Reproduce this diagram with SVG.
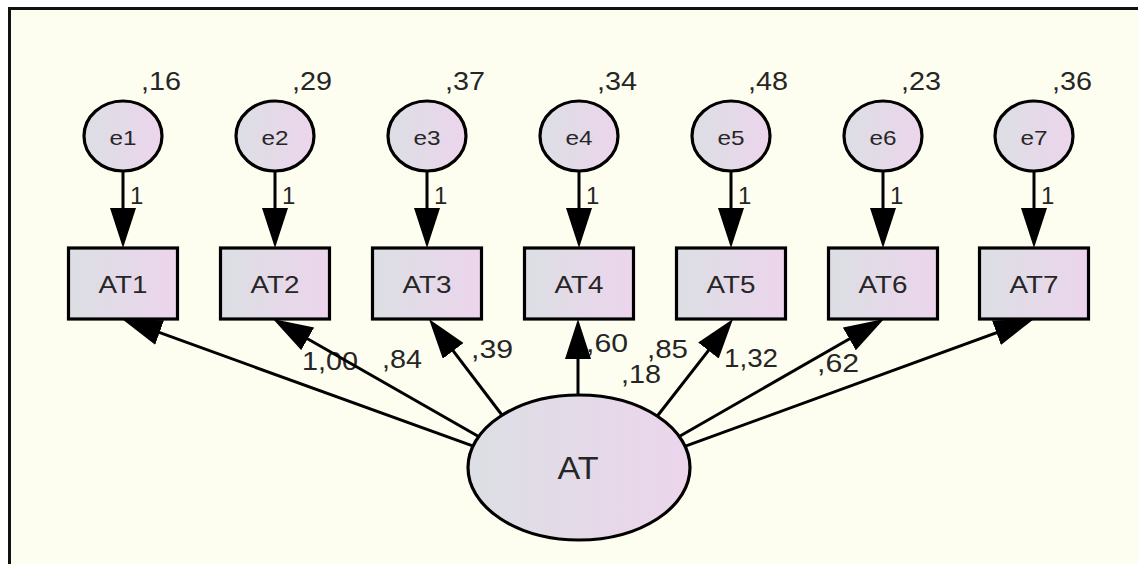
<svg xmlns="http://www.w3.org/2000/svg" width="1138" height="564" viewBox="0 0 1138 564">
  <defs>
    <linearGradient id="nodeFill" x1="0" y1="0" x2="1" y2="0">
      <stop offset="0" stop-color="#dcdfe4"/>
      <stop offset="1" stop-color="#ecd5ec"/>
    </linearGradient>
    <marker id="head" markerUnits="userSpaceOnUse" markerWidth="42" markerHeight="28" refX="32" refY="13" orient="auto">
      <path d="M0,0 L40,13 L0,26 Z" fill="#000"/>
    </marker>
    <style>
      .shape { fill: url(#nodeFill); stroke: #000; stroke-width: 3.2; }
      .link { stroke: #000; stroke-width: 3; fill: none; marker-end: url(#head); }
      .t { font-family: "Liberation Sans", Arial, sans-serif; fill: #262626; }
      .lbl { text-anchor: middle; }
      .err { font-size: 21px; }
      .item { font-size: 23px; }
      .factor { font-size: 32px; }
      .val { font-size: 25px; }
      .one { font-size: 24px; }
    </style>
  </defs>

  <!-- page and frame -->
  <rect x="0" y="0" width="1138" height="564" fill="#ffffff"/>
  <rect x="9" y="8" width="1129" height="556" fill="#fefef0"/>
  <line x1="8" y1="8.5" x2="1138" y2="8.5" stroke="#111" stroke-width="3"/>
  <line x1="9.5" y1="7" x2="9.5" y2="564" stroke="#111" stroke-width="3"/>

  <!-- estimates -->
  <g id="labels" class="t">
    <text class="val" x="141" y="90" textLength="40" lengthAdjust="spacingAndGlyphs">,16</text>
    <text class="val" x="292" y="90" textLength="40" lengthAdjust="spacingAndGlyphs">,29</text>
    <text class="val" x="445" y="90" textLength="40" lengthAdjust="spacingAndGlyphs">,37</text>
    <text class="val" x="597" y="90" textLength="40" lengthAdjust="spacingAndGlyphs">,34</text>
    <text class="val" x="748" y="90" textLength="40" lengthAdjust="spacingAndGlyphs">,48</text>
    <text class="val" x="901" y="90" textLength="40" lengthAdjust="spacingAndGlyphs">,23</text>
    <text class="val" x="1052" y="90" textLength="40" lengthAdjust="spacingAndGlyphs">,36</text>

    <text class="one" x="130" y="204">1</text>
    <text class="one" x="282" y="204">1</text>
    <text class="one" x="434" y="204">1</text>
    <text class="one" x="586" y="204">1</text>
    <text class="one" x="738" y="204">1</text>
    <text class="one" x="890" y="204">1</text>
    <text class="one" x="1041" y="204">1</text>

    <text class="val" x="302" y="370" textLength="56" lengthAdjust="spacingAndGlyphs">1,00</text>
    <text class="val" x="382" y="368" textLength="40" lengthAdjust="spacingAndGlyphs">,84</text>
    <text class="val" x="471" y="358" textLength="42" lengthAdjust="spacingAndGlyphs">,39</text>
    <text class="val" x="586" y="352" textLength="42" lengthAdjust="spacingAndGlyphs">,60</text>
    <text class="val" x="647" y="358" textLength="41" lengthAdjust="spacingAndGlyphs">,85</text>
    <text class="val" x="621" y="383" textLength="40" lengthAdjust="spacingAndGlyphs">,18</text>
    <text class="val" x="724" y="367" textLength="54" lengthAdjust="spacingAndGlyphs">1,32</text>
    <text class="val" x="817" y="372" textLength="42" lengthAdjust="spacingAndGlyphs">,62</text>
  </g>

  <!-- paths -->
  <g id="connectors">
    <line class="link" x1="123" y1="168" x2="123" y2="240"/>
    <line class="link" x1="275" y1="168" x2="275" y2="240"/>
    <line class="link" x1="427" y1="168" x2="427" y2="240"/>
    <line class="link" x1="579" y1="168" x2="579" y2="240"/>
    <line class="link" x1="731" y1="168" x2="731" y2="240"/>
    <line class="link" x1="883" y1="168" x2="883" y2="240"/>
    <line class="link" x1="1034" y1="168" x2="1034" y2="240"/>

    <line class="link" x1="474.7" y1="446.7" x2="129.5" y2="321.7"/>
    <line class="link" x1="481.2" y1="438.0" x2="279.9" y2="323.0"/>
    <line class="link" x1="505" y1="419" x2="433.8" y2="325.4"/>
    <line class="link" x1="578" y1="400" x2="578" y2="327"/>
    <line class="link" x1="655" y1="419" x2="728.1" y2="325.3"/>
    <line class="link" x1="675.7" y1="438.5" x2="877.1" y2="323.0"/>
    <line class="link" x1="681.3" y1="447.7" x2="1026.5" y2="321.7"/>
  </g>

  <!-- error terms -->
  <g id="e1"><ellipse class="shape" cx="123" cy="136" rx="39" ry="35"/><text class="t lbl err" x="123" y="145" textLength="27" lengthAdjust="spacingAndGlyphs">e1</text></g>
  <g id="e2"><ellipse class="shape" cx="275" cy="136" rx="39" ry="35"/><text class="t lbl err" x="275" y="145" textLength="27" lengthAdjust="spacingAndGlyphs">e2</text></g>
  <g id="e3"><ellipse class="shape" cx="427" cy="136" rx="39" ry="35"/><text class="t lbl err" x="427" y="145" textLength="27" lengthAdjust="spacingAndGlyphs">e3</text></g>
  <g id="e4"><ellipse class="shape" cx="579" cy="136" rx="39" ry="35"/><text class="t lbl err" x="579" y="145" textLength="27" lengthAdjust="spacingAndGlyphs">e4</text></g>
  <g id="e5"><ellipse class="shape" cx="731" cy="136" rx="39" ry="35"/><text class="t lbl err" x="731" y="145" textLength="27" lengthAdjust="spacingAndGlyphs">e5</text></g>
  <g id="e6"><ellipse class="shape" cx="883" cy="136" rx="39" ry="35"/><text class="t lbl err" x="883" y="145" textLength="27" lengthAdjust="spacingAndGlyphs">e6</text></g>
  <g id="e7"><ellipse class="shape" cx="1034" cy="136" rx="39" ry="35"/><text class="t lbl err" x="1034" y="145" textLength="27" lengthAdjust="spacingAndGlyphs">e7</text></g>

  <!-- observed items -->
  <g id="AT1"><rect class="shape" x="68.5" y="248" width="109" height="71"/><text class="t lbl item" x="123" y="293" textLength="49" lengthAdjust="spacingAndGlyphs">AT1</text></g>
  <g id="AT2"><rect class="shape" x="220.5" y="248" width="109" height="71"/><text class="t lbl item" x="275" y="293" textLength="49" lengthAdjust="spacingAndGlyphs">AT2</text></g>
  <g id="AT3"><rect class="shape" x="372.5" y="248" width="109" height="71"/><text class="t lbl item" x="427" y="293" textLength="49" lengthAdjust="spacingAndGlyphs">AT3</text></g>
  <g id="AT4"><rect class="shape" x="524.5" y="248" width="109" height="71"/><text class="t lbl item" x="579" y="293" textLength="49" lengthAdjust="spacingAndGlyphs">AT4</text></g>
  <g id="AT5"><rect class="shape" x="676.5" y="248" width="109" height="71"/><text class="t lbl item" x="731" y="293" textLength="49" lengthAdjust="spacingAndGlyphs">AT5</text></g>
  <g id="AT6"><rect class="shape" x="828.5" y="248" width="109" height="71"/><text class="t lbl item" x="883" y="293" textLength="49" lengthAdjust="spacingAndGlyphs">AT6</text></g>
  <g id="AT7"><rect class="shape" x="979.5" y="248" width="109" height="71"/><text class="t lbl item" x="1034" y="293" textLength="49" lengthAdjust="spacingAndGlyphs">AT7</text></g>

  <!-- latent factor -->
  <g id="AT"><ellipse class="shape" cx="579" cy="467.5" rx="111" ry="72.5"/><text class="t lbl factor" x="578" y="479" textLength="41" lengthAdjust="spacingAndGlyphs">AT</text></g>
</svg>
